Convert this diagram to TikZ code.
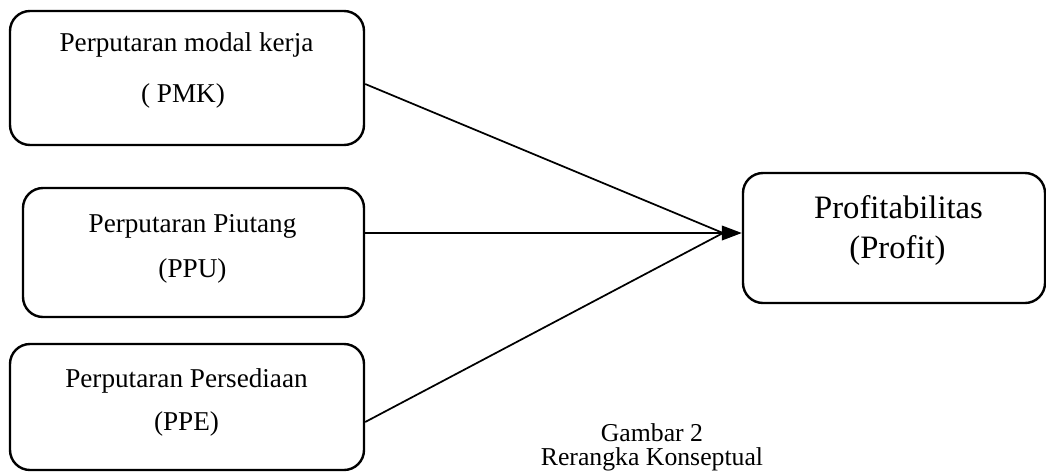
\documentclass[tikz,border=0pt]{standalone}
\usepackage{fontspec}
\setmainfont{Liberation Serif}
\usetikzlibrary{arrows.meta}
\tikzset{
  box/.style={draw, line width=1.8pt, rounded corners=15pt, inner sep=0pt},
  conn/.style={line width=1.3pt},
  boxtxt/.style={anchor=base, inner sep=0pt, font=\fontsize{20.4pt}{24pt}\selectfont},
  bigtxt/.style={anchor=base, inner sep=0pt, font=\fontsize{24.5pt}{29pt}\selectfont},
  captxt/.style={anchor=base, inner sep=0pt, font=\fontsize{19.3pt}{23pt}\selectfont}
}
\begin{document}
\begin{tikzpicture}[x=0.75pt, y=-0.75pt]
\useasboundingbox (0,0) rectangle (1046,472);
% boxes
\node[box, minimum width=265.5pt, minimum height=100.5pt] (b1) at (187,78) {};
\node[box, minimum width=255.75pt, minimum height=96.75pt] (b2) at (193.5,252.5) {};
\node[box, minimum width=265.5pt, minimum height=94.5pt] (b3) at (187,407) {};
\node[box, minimum width=226.5pt, minimum height=97.5pt] (rb) at (894,238) {};
% texts
\node[boxtxt] (t1a) at (186.5,51) {Perputaran modal kerja};
\node[boxtxt] (t1b) at (183,102) {( PMK)};
\node[boxtxt] (t2a) at (192.5,232) {Perputaran Piutang};
\node[boxtxt] (t2b) at (192.5,277) {(PPU)};
\node[boxtxt] (t3a) at (186.5,387) {Perputaran Persediaan};
\node[boxtxt] (t3b) at (186.5,430) {(PPE)};
\node[bigtxt] (r1) at (898.5,218) {Profitabilitas};
\node[bigtxt] (r2) at (897.5,258) {(Profit)};
\node[captxt, text depth=0pt] (c1) at (652,441) {Gambar 2};
\node[captxt, text height=13pt] (c2) at (652,465) {Rerangka Konseptual};
% connectors
\coordinate (j) at (723,233);
\draw[conn] ([yshift=-4.5pt]b1.east) -- (j);
\draw[conn] ([yshift=-11.25pt]b3.east) -- (j);
\draw[conn] (b2.east |- j) -- (j);
\draw[conn, -{Triangle[length=15pt, width=11pt]}] (j) -- (rb.west |- j);
\end{tikzpicture}
\end{document}
